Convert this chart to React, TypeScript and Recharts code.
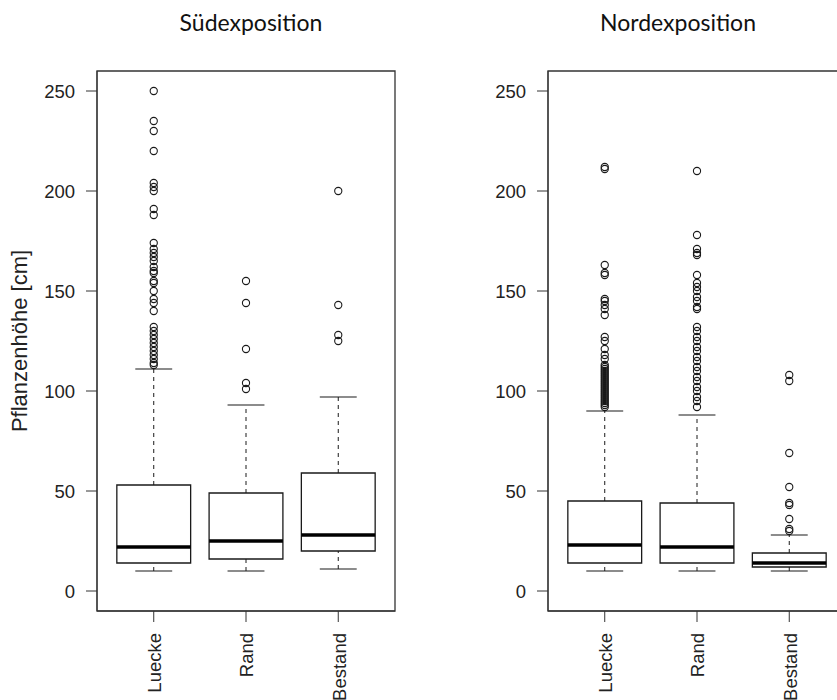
import {
    ComposedChart,
    XAxis,
    YAxis,
    Scatter,
    ReferenceArea,
    ReferenceLine,
    Label,
} from "recharts";

const GROUPS = ["Luecke", "Rand", "Bestand"];
const Y_TICKS = [0, 50, 100, 150, 200, 250];

// Süd: five-number summaries per group (whisker low, Q1, median, Q3, whisker high)
const suedLow = [10, 10, 11];
const suedQ1 = [14, 16, 20];
const suedMedian = [22, 25, 28];
const suedQ3 = [53, 49, 59];
const suedHigh = [111, 93, 97];

const suedLueckeOut = [250, 235, 230, 220, 204, 202, 200, 191, 188, 174, 171, 169, 167, 165, 162, 160, 159, 155, 154, 150, 146, 144, 140, 132, 130, 128, 126, 124, 122, 120, 118, 116, 114, 113];
const suedRandOut = [155, 144, 121, 104, 101];
const suedBestandOut = [200, 143, 128, 125];

// Nord
const nordLow = [10, 10, 10];
const nordQ1 = [14, 14, 12];
const nordMedian = [23, 22, 14];
const nordQ3 = [45, 44, 19];
const nordHigh = [90, 88, 28];

const nordLueckeOut = [212, 211, 163, 159, 158, 146, 145, 143, 141, 138, 127, 125, 121, 118, 116, 113, 112, 111, 110, 109, 108, 107, 106, 105, 104, 103, 102, 101, 100, 99, 98, 97, 96, 95, 94, 93, 92];
const nordRandOut = [210, 178, 171, 169, 168, 158, 154, 152, 150, 147, 145, 142, 141, 132, 130, 127, 125, 122, 120, 117, 115, 112, 110, 107, 105, 102, 100, 97, 95, 92];
const nordBestandOut = [108, 105, 69, 52, 44, 43, 36, 31, 30];

type BoxStats = { x: number; low: number; q1: number; median: number; q3: number; high: number };

function buildStats(low: number[], q1: number[], median: number[], q3: number[], high: number[]): BoxStats[] {
    return GROUPS.map((_, i) => ({
        x: i + 1,
        low: low[i],
        q1: q1[i],
        median: median[i],
        q3: q3[i],
        high: high[i],
    }));
}

function buildOutliers(lists: number[][]) {
    const pts: { x: number; y: number }[] = [];
    lists.forEach((list, i) => {
        list.forEach((v) => pts.push({ x: i + 1, y: v }));
    });
    return pts;
}

const AXIS_FONT = "Liberation Sans";
const AXIS_SIZE = 18.5;
const FRAME = "#333";
const INK = "#1a1a1a";
const BOX_HALF = 0.4;
const CAP_HALF = 0.2;
const X_DOMAIN = [0.385, 3.615];
const Y_DOMAIN = [-10, 260];

function CategoryTick(props: any) {
    const { x, y, payload } = props;
    return (
        <text
            x={x}
            y={y}
            dy="0.4em"
            transform={`rotate(-90, ${x}, ${y})`}
            textAnchor="end"
            style={{ fontSize: AXIS_SIZE, fontFamily: AXIS_FONT, fill: "#222" }}
        >
            {GROUPS[payload.value - 1]}
        </text>
    );
}

function ValueTick(props: any) {
    const { x, y, payload } = props;
    return (
        <text x={x} y={y} dy="0.36em" textAnchor="end" style={{ fontSize: AXIS_SIZE, fontFamily: AXIS_FONT, fill: "#222" }}>
            {payload.value}
        </text>
    );
}

function OutlierDot(props: any) {
    return <circle cx={props.cx} cy={props.cy} r={3.6} fill="none" stroke={INK} strokeWidth={1.1} />;
}

function BoxPanel({ stats, outliers, yLabel }: { stats: BoxStats[]; outliers: { x: number; y: number }[]; yLabel?: string }) {
    return (
        <ComposedChart width={420} height={700} margin={{ top: 71, right: 25, bottom: 0, left: 0 }}>
            <XAxis
                dataKey="x"
                type="number"
                domain={X_DOMAIN}
                allowDataOverflow
                ticks={[1, 2, 3]}
                height={89}
                tickSize={11}
                tickMargin={11}
                tick={<CategoryTick />}
                stroke={FRAME}
                interval={0}
            />
            <YAxis
                dataKey="y"
                type="number"
                domain={Y_DOMAIN}
                allowDataOverflow
                ticks={Y_TICKS}
                width={97}
                tickSize={11}
                tickMargin={11}
                stroke={FRAME}
                tick={<ValueTick />}
                interval={0}
            >
                {yLabel && (
                    <Label
                        content={(p: any) => {
                            const vb = p.viewBox;
                            const cx = vb.x + 27;
                            const cy = vb.y + vb.height / 2;
                            return (
                                <text
                                    x={cx}
                                    y={cy}
                                    transform={`rotate(-90, ${cx}, ${cy})`}
                                    textAnchor="middle"
                                    style={{ fontSize: 22, fontFamily: AXIS_FONT, fill: "#222" }}
                                >
                                    {yLabel}
                                </text>
                            );
                        }}
                    />
                )}
            </YAxis>

            {/* plot frame */}
            <ReferenceArea
                x1={X_DOMAIN[0]}
                x2={X_DOMAIN[1]}
                y1={Y_DOMAIN[0]}
                y2={Y_DOMAIN[1]}
                fill="none"
                stroke={FRAME}
                strokeWidth={1.3}
                ifOverflow="visible"
            />

            {stats.map((s) => [
                // dashed whiskers
                <ReferenceLine key={`wu${s.x}`} segment={[{ x: s.x, y: s.q3 }, { x: s.x, y: s.high }]} stroke={INK} strokeDasharray="4 4" />,
                <ReferenceLine key={`wl${s.x}`} segment={[{ x: s.x, y: s.low }, { x: s.x, y: s.q1 }]} stroke={INK} strokeDasharray="4 4" />,
                // staples
                <ReferenceLine key={`cu${s.x}`} segment={[{ x: s.x - CAP_HALF, y: s.high }, { x: s.x + CAP_HALF, y: s.high }]} stroke={INK} strokeWidth={1.2} />,
                <ReferenceLine key={`cl${s.x}`} segment={[{ x: s.x - CAP_HALF, y: s.low }, { x: s.x + CAP_HALF, y: s.low }]} stroke={INK} strokeWidth={1.2} />,
                // box
                <ReferenceArea
                    key={`b${s.x}`}
                    x1={s.x - BOX_HALF}
                    x2={s.x + BOX_HALF}
                    y1={s.q1}
                    y2={s.q3}
                    fill="#fff"
                    fillOpacity={1}
                    stroke={INK}
                    strokeWidth={1.3}
                />,
                // median
                <ReferenceLine key={`m${s.x}`} segment={[{ x: s.x - BOX_HALF, y: s.median }, { x: s.x + BOX_HALF, y: s.median }]} stroke="#000" strokeWidth={3.5} />,
            ])}

            <Scatter data={outliers} shape={<OutlierDot />} isAnimationActive={false} />
        </ComposedChart>
    );
}

const titleStyle: React.CSSProperties = {
    position: "absolute",
    top: 10,
    width: 200,
    height: 24,
    lineHeight: "24px",
    textAlign: "center",
    fontFamily: "Lato, 'Open Sans', sans-serif",
    fontSize: 23,
    color: "#111",
};

export default function App() {
    const sued = buildStats(suedLow, suedQ1, suedMedian, suedQ3, suedHigh);
    const nord = buildStats(nordLow, nordQ1, nordMedian, nordQ3, nordHigh);
    const suedOut = buildOutliers([suedLueckeOut, suedRandOut, suedBestandOut]);
    const nordOut = buildOutliers([nordLueckeOut, nordRandOut, nordBestandOut]);

    return (
        <div style={{ position: "absolute", left: 0, top: 0, width: 837, height: 700, overflow: "hidden", background: "#fff" }}>
            <div style={{ ...titleStyle, left: 151 }}>Südexposition</div>
            <div style={{ ...titleStyle, left: 578 }}>Nordexposition</div>
            <div style={{ position: "absolute", left: 0, top: 0 }}>
                <BoxPanel stats={sued} outliers={suedOut} yLabel="Pflanzenhöhe [cm]" />
            </div>
            <div style={{ position: "absolute", left: 451, top: 0 }}>
                <BoxPanel stats={nord} outliers={nordOut} />
            </div>
        </div>
    );
}
